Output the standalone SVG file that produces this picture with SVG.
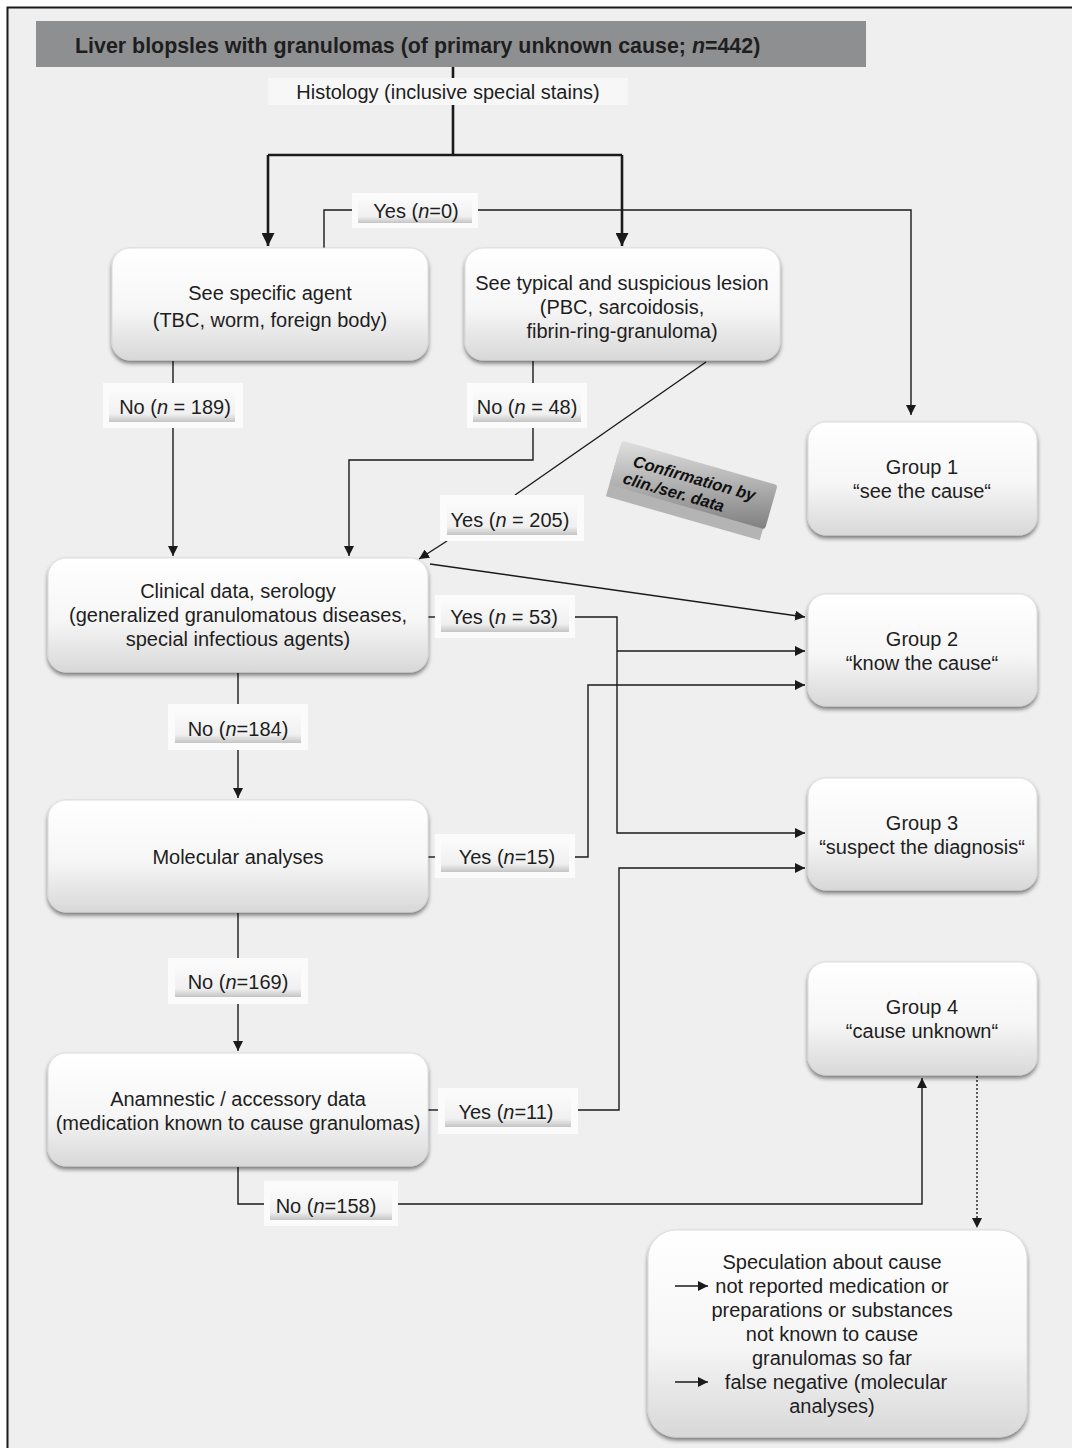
<svg xmlns="http://www.w3.org/2000/svg" width="1072" height="1448" viewBox="0 0 1072 1448">
<defs>
<linearGradient id="ng" x1="0" y1="0" x2="0" y2="1">
<stop offset="0" stop-color="#ffffff"/>
<stop offset="0.55" stop-color="#f6f6f6"/>
<stop offset="1" stop-color="#d8d8d8"/>
</linearGradient>
<linearGradient id="lg" x1="0" y1="0" x2="0" y2="1">
<stop offset="0" stop-color="#fbfbfb"/>
<stop offset="0.75" stop-color="#f0f0f0"/>
<stop offset="1" stop-color="#c4c4c4"/>
</linearGradient>
<linearGradient id="bg" x1="0" y1="0" x2="1" y2="1">
<stop offset="0" stop-color="#e0e0e0"/>
<stop offset="0.5" stop-color="#b0b0b0"/>
<stop offset="1" stop-color="#808080"/>
</linearGradient>
<filter id="sh" x="-10%" y="-10%" width="120%" height="130%">
<feGaussianBlur in="SourceAlpha" stdDeviation="2"/>
<feOffset dx="0" dy="3" result="b"/>
<feComponentTransfer><feFuncA type="linear" slope="0.5"/></feComponentTransfer>
<feMerge><feMergeNode/><feMergeNode in="SourceGraphic"/></feMerge>
</filter>
<marker id="ar" viewBox="0 0 10 10" refX="10" refY="5" markerWidth="10" markerHeight="10" markerUnits="userSpaceOnUse" orient="auto">
<path d="M0,0 L10,5 L0,10 z" fill="#1a1a1a"/>
</marker>
<marker id="art" viewBox="0 0 10 10" refX="10" refY="5" markerWidth="13" markerHeight="13" markerUnits="userSpaceOnUse" orient="auto">
<path d="M0,0 L10,5 L0,10 z" fill="#1a1a1a"/>
</marker>
</defs>
<style>
text{font-family:"Liberation Sans",Arial,sans-serif;font-size:20px;fill:#1e1e1e;text-anchor:middle}
.node{fill:url(#ng);filter:url(#sh);stroke:#d6d6d6;stroke-width:0.8}
.lo{fill:#fbfbfb}
.li{fill:url(#lg)}
.c{fill:none;stroke:#1a1a1a;stroke-width:1.4}
.ct{fill:none;stroke:#1a1a1a;stroke-width:2.6}
.i{font-style:italic}
</style>
<rect x="0" y="0" width="1072" height="1448" fill="#ffffff"/>
<rect x="7.5" y="7.5" width="1080" height="1460" fill="#efefef" stroke="#1a1a1a" stroke-width="2"/>

<g id="header">
<rect x="36" y="21" width="830" height="46" fill="#8e8f91"/>
<text x="75" y="53" style="text-anchor:start;font-weight:bold;font-size:21.4px">Liver blopsles with granulomas (of primary unknown cause; <tspan class="i">n</tspan>=442)</text>
</g>
<g id="histology">
<rect x="268" y="78" width="360" height="27" fill="#f7f7f7"/>
<text x="448" y="99">Histology (inclusive special stains)</text>
</g>

<g id="connectors">
<path class="ct" d="M453,67 V78 M453,105 V155"/>
<path class="ct" d="M268,155 H622"/>
<path class="ct" d="M268,155 V246" marker-end="url(#art)"/>
<path class="ct" d="M622,155 V246" marker-end="url(#art)"/>
<path class="c" d="M324,248 V210 H356"/>
<path class="c" d="M476,210 H911 V415" marker-end="url(#ar)"/>
<path class="c" d="M173,361 V392"/>
<path class="c" d="M173,427 V556" marker-end="url(#ar)"/>
<path class="c" d="M533,361 V392"/>
<path class="c" d="M533,427 V460 H349 V556" marker-end="url(#ar)"/>
<path class="c" d="M706,362 L515,495"/>
<path class="c" d="M447,541 L419,559" marker-end="url(#ar)"/>
<path class="c" d="M430,564 L805,617" marker-end="url(#ar)"/>
<path class="c" d="M428,617 H441"/>
<path class="c" d="M569,617 H617 V833 H805" marker-end="url(#ar)"/>
<path class="c" d="M617,651 H805" marker-end="url(#ar)"/>
<path class="c" d="M428,857 H441"/>
<path class="c" d="M573,857 H588 V685 H805" marker-end="url(#ar)"/>
<path class="c" d="M238,673 V705"/>
<path class="c" d="M238,750 V798" marker-end="url(#ar)"/>
<path class="c" d="M238,913 V960"/>
<path class="c" d="M238,1003 V1051" marker-end="url(#ar)"/>
<path class="c" d="M428,1110 H445"/>
<path class="c" d="M577,1110 H619 V868 H805" marker-end="url(#ar)"/>
<path class="c" d="M238,1167 V1204 H265"/>
<path class="c" d="M398,1204 H922 V1078" marker-end="url(#ar)"/>
<path class="c" d="M977,1076 V1228" stroke-dasharray="2,2" stroke-width="1.2" marker-end="url(#ar)"/>
</g>

<g id="n-agent">
<rect class="node" x="112" y="248" width="316" height="112" rx="18"/>
<text x="270" y="300">See specific agent</text>
<text x="270" y="327">(TBC, worm, foreign body)</text>
</g>
<g id="n-lesion">
<rect class="node" x="465" y="248" width="315" height="112" rx="18"/>
<text x="622" y="290">See typical and suspicious lesion</text>
<text x="622" y="314">(PBC, sarcoidosis,</text>
<text x="622" y="338">fibrin-ring-granuloma)</text>
</g>
<g id="n-group1">
<rect class="node" x="808" y="422" width="229" height="113" rx="18"/>
<text x="922" y="474">Group 1</text>
<text x="922" y="498">“see the cause“</text>
</g>
<g id="n-group2">
<rect class="node" x="808" y="594" width="229" height="112" rx="18"/>
<text x="922" y="646">Group 2</text>
<text x="922" y="670">“know the cause“</text>
</g>
<g id="n-group3">
<rect class="node" x="808" y="778" width="229" height="112" rx="18"/>
<text x="922" y="830">Group 3</text>
<text x="922" y="854">“suspect the diagnosis“</text>
</g>
<g id="n-group4">
<rect class="node" x="808" y="962" width="229" height="113" rx="18"/>
<text x="922" y="1014">Group 4</text>
<text x="922" y="1038">“cause unknown“</text>
</g>
<g id="n-clinical">
<rect class="node" x="48" y="558" width="380" height="114" rx="18"/>
<text x="238" y="598">Clinical data, serology</text>
<text x="238" y="622">(generalized granulomatous diseases,</text>
<text x="238" y="646">special infectious agents)</text>
</g>
<g id="n-molecular">
<rect class="node" x="48" y="800" width="380" height="112" rx="18"/>
<text x="238" y="864">Molecular analyses</text>
</g>
<g id="n-anamnestic">
<rect class="node" x="48" y="1053" width="380" height="113" rx="18"/>
<text x="238" y="1106">Anamnestic / accessory data</text>
<text x="238" y="1130">(medication known to cause granulomas)</text>
</g>
<g id="n-speculation">
<rect class="node" x="648" y="1230" width="379" height="207" rx="28"/>
<text x="832" y="1269">Speculation about cause</text>
<text x="832" y="1293">not reported medication or</text>
<text x="832" y="1317">preparations or substances</text>
<text x="832" y="1341">not known to cause</text>
<text x="832" y="1365">granulomas so far</text>
<text x="836" y="1389">false negative (molecular</text>
<text x="832" y="1413">analyses)</text>
<path class="c" d="M675,1286 H708" marker-end="url(#ar)"/>
<path class="c" d="M675,1382 H708" marker-end="url(#ar)"/>
</g>

<g id="l-yes0">
<rect class="lo" x="352" y="193" width="126" height="35"/>
<rect class="li" x="358" y="197" width="114" height="26"/>
<text x="416" y="218">Yes (<tspan class="i">n</tspan>=0)</text>
</g>
<g id="l-no189">
<rect class="lo" x="103" y="383" width="140" height="45"/>
<rect class="li" x="109" y="390" width="126" height="32"/>
<text x="175" y="414">No (<tspan class="i">n</tspan> = 189)</text>
</g>
<g id="l-no48">
<rect class="lo" x="467" y="383" width="120" height="45"/>
<rect class="li" x="473" y="390" width="108" height="32"/>
<text x="527" y="414">No (<tspan class="i">n</tspan> = 48)</text>
</g>
<g id="l-yes205">
<rect class="lo" x="440" y="495" width="144" height="46"/>
<rect class="li" x="447" y="502" width="130" height="33"/>
<text x="510" y="527">Yes (<tspan class="i">n</tspan> = 205)</text>
</g>
<g id="l-yes53">
<rect class="lo" x="435" y="595" width="140" height="43"/>
<rect class="li" x="441" y="600" width="128" height="32"/>
<text x="504" y="624">Yes (<tspan class="i">n</tspan> = 53)</text>
</g>
<g id="l-no184">
<rect class="lo" x="168" y="704" width="140" height="46"/>
<rect class="li" x="175" y="710" width="126" height="33"/>
<text x="238" y="736">No (<tspan class="i">n</tspan>=184)</text>
</g>
<g id="l-yes15">
<rect class="lo" x="435" y="834" width="140" height="44"/>
<rect class="li" x="441" y="840" width="128" height="32"/>
<text x="507" y="864">Yes (<tspan class="i">n</tspan>=15)</text>
</g>
<g id="l-no169">
<rect class="lo" x="168" y="958" width="140" height="46"/>
<rect class="li" x="175" y="964" width="126" height="33"/>
<text x="238" y="989">No (<tspan class="i">n</tspan>=169)</text>
</g>
<g id="l-yes11">
<rect class="lo" x="438" y="1088" width="140" height="46"/>
<rect class="li" x="445" y="1094" width="126" height="33"/>
<text x="506" y="1119">Yes (<tspan class="i">n</tspan>=11)</text>
</g>
<g id="l-no158">
<rect class="lo" x="264" y="1181" width="134" height="45"/>
<rect class="li" x="270" y="1188" width="122" height="32"/>
<text x="326" y="1213">No (<tspan class="i">n</tspan>=158)</text>
</g>

<g id="badge" transform="translate(690,486) rotate(16)">
<rect x="-74" y="-17" width="160" height="44" fill="#8c8c8c" opacity="0.6" transform="translate(-4,6)"/>
<rect x="-78" y="-25" width="162" height="46" rx="3" fill="url(#bg)"/>
<text x="2" y="-3" style="font-size:16.5px;font-weight:bold;font-style:italic;fill:#111">Confirmation by</text>
<text x="-14" y="16" style="font-size:16.5px;font-weight:bold;font-style:italic;fill:#111">clin./ser. data</text>
</g>
</svg>
